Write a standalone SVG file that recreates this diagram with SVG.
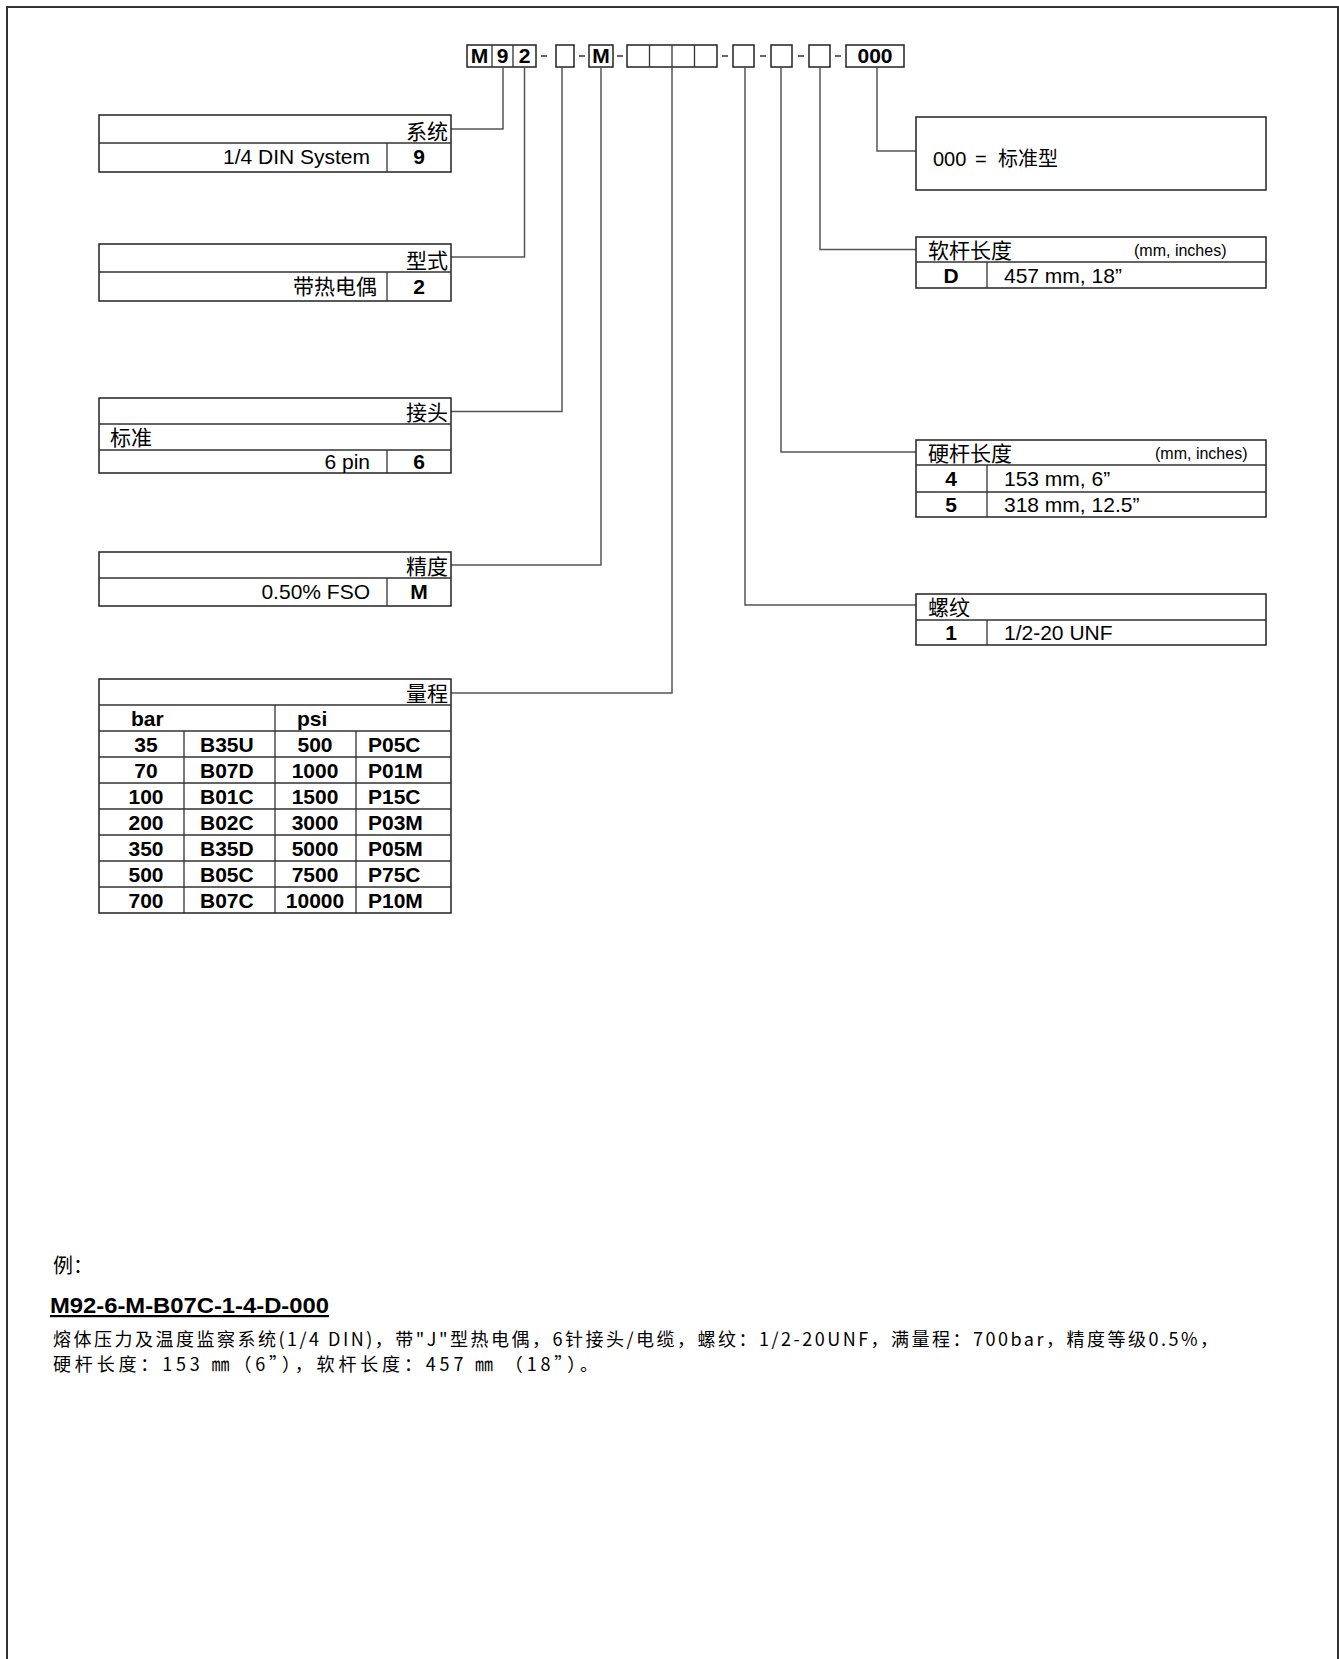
<svg xmlns="http://www.w3.org/2000/svg" width="1339" height="1659" viewBox="0 0 1339 1659">
<style>
.t{font-family:"Liberation Sans","Noto Sans CJK SC",sans-serif;font-size:21px;fill:#000}
.b{font-weight:bold}
.s{font-size:16px}
.m{text-anchor:middle}
.e{text-anchor:end}
.box{fill:none;stroke:#222;stroke-width:1.5}
.ln{fill:none;stroke:#333;stroke-width:1.3}
.cn{fill:none;stroke:#555;stroke-width:1.5}
.d{font-family:"Noto Sans CJK SC",sans-serif;font-size:18px;fill:#000}
</style>
<rect width="1339" height="1659" fill="#fff"/>
<path d="M7,1659 V7 H1338 V1659" fill="none" stroke="#333" stroke-width="2"/>

<g id="code">
<rect class="box" x="467" y="45" width="69" height="22"/>
<path class="ln" d="M492,45V67M513,45V67"/>
<text class="t b m" x="479.5" y="63">M</text>
<text class="t b m" x="502.5" y="63">9</text>
<text class="t b m" x="524.5" y="63">2</text>
<rect class="box" x="556" y="45" width="18" height="22"/>
<rect class="box" x="589" y="45" width="24" height="22"/>
<text class="t b m" x="601" y="63">M</text>
<rect class="box" x="627" y="45" width="90" height="22"/>
<path class="ln" d="M649.5,45V67M672,45V67M694.5,45V67"/>
<rect class="box" x="733" y="45" width="21" height="22"/>
<rect class="box" x="771" y="45" width="21" height="22"/>
<rect class="box" x="809" y="45" width="21" height="22"/>
<rect class="box" x="846" y="45" width="58" height="22"/>
<text class="t b m" x="875" y="63">000</text>
<path class="ln" d="M541,56h6M579,56h6M617,56h6M722,56h6M760,56h6M798,56h6M835,56h6"/>
</g>

<g id="connectors">
<path class="cn" d="M503,67V129H451"/>
<path class="cn" d="M524.5,67V257H451"/>
<path class="cn" d="M562,67V411.5H451"/>
<path class="cn" d="M601,67V565H451"/>
<path class="cn" d="M672,67V693H451"/>
<path class="cn" d="M745,67V605H916"/>
<path class="cn" d="M781,67V452H916"/>
<path class="cn" d="M820,67V249.5H916"/>
<path class="cn" d="M877,67V151H916"/>
</g>

<g id="system">
<rect class="box" x="99" y="115" width="352" height="57"/>
<path class="ln" d="M99,143H451M387,143V172"/>
<text class="t e" x="448" y="139">系统</text>
<text class="t e" x="370" y="164">1/4 DIN System</text>
<text class="t b m" x="419" y="164">9</text>
</g>

<g id="type">
<rect class="box" x="99" y="244" width="352" height="57"/>
<path class="ln" d="M99,272H451M387,272V301"/>
<text class="t e" x="448" y="268">型式</text>
<text class="t e" x="377" y="294">带热电偶</text>
<text class="t b m" x="419" y="294">2</text>
</g>

<g id="connector">
<rect class="box" x="99" y="398" width="352" height="75"/>
<path class="ln" d="M99,424H451M99,450H451M387,450V473"/>
<text class="t e" x="448" y="420">接头</text>
<text class="t" x="110" y="445">标准</text>
<text class="t e" x="370" y="469">6 pin</text>
<text class="t b m" x="419" y="469">6</text>
</g>

<g id="accuracy">
<rect class="box" x="99" y="552" width="352" height="54"/>
<path class="ln" d="M99,578H451M387,578V606"/>
<text class="t e" x="448" y="574">精度</text>
<text class="t e" x="370" y="599">0.50% FSO</text>
<text class="t b m" x="419" y="599">M</text>
</g>

<g id="range">
<rect class="box" x="99" y="679" width="352" height="234"/>
<path class="ln" d="M99,705H451M99,731H451M99,757H451M99,783H451M99,809H451M99,835H451M99,861H451M99,887H451M275,705V913M184,731V913M356,731V913"/>
<text class="t e" x="448" y="701">量程</text>
<text class="t b" x="131" y="726">bar</text>
<text class="t b" x="297" y="726">psi</text>
<g class="t b">
<text class="m" x="146" y="752">35</text><text x="200" y="752">B35U</text><text class="m" x="315" y="752">500</text><text x="368" y="752">P05C</text>
<text class="m" x="146" y="778">70</text><text x="200" y="778">B07D</text><text class="m" x="315" y="778">1000</text><text x="368" y="778">P01M</text>
<text class="m" x="146" y="804">100</text><text x="200" y="804">B01C</text><text class="m" x="315" y="804">1500</text><text x="368" y="804">P15C</text>
<text class="m" x="146" y="830">200</text><text x="200" y="830">B02C</text><text class="m" x="315" y="830">3000</text><text x="368" y="830">P03M</text>
<text class="m" x="146" y="856">350</text><text x="200" y="856">B35D</text><text class="m" x="315" y="856">5000</text><text x="368" y="856">P05M</text>
<text class="m" x="146" y="882">500</text><text x="200" y="882">B05C</text><text class="m" x="315" y="882">7500</text><text x="368" y="882">P75C</text>
<text class="m" x="146" y="908">700</text><text x="200" y="908">B07C</text><text class="m" x="315" y="908">10000</text><text x="368" y="908">P10M</text>
</g>
</g>

<g id="standard">
<rect class="box" x="916" y="117" width="350" height="73"/>
<text class="t" y="166" style="font-size:20px"><tspan x="933">000</tspan><tspan x="975">=</tspan><tspan x="998">标准型</tspan></text>
</g>

<g id="soft-length">
<rect class="box" x="916" y="237" width="350" height="51"/>
<path class="ln" d="M916,262H1266M987,262V288"/>
<text class="t" x="928" y="258">软杆长度</text>
<text class="t s" x="1134" y="256">(mm, inches)</text>
<text class="t b m" x="951" y="283">D</text>
<text class="t" x="1004" y="283">457 mm, 18”</text>
</g>

<g id="hard-length">
<rect class="box" x="916" y="440" width="350" height="77"/>
<path class="ln" d="M916,465H1266M916,492H1266M987,465V517"/>
<text class="t" x="928" y="461">硬杆长度</text>
<text class="t s" x="1155" y="459">(mm, inches)</text>
<text class="t b m" x="951" y="486">4</text>
<text class="t" x="1004" y="486">153 mm, 6”</text>
<text class="t b m" x="951" y="512">5</text>
<text class="t" x="1004" y="512">318 mm, 12.5”</text>
</g>

<g id="thread">
<rect class="box" x="916" y="594" width="350" height="51"/>
<path class="ln" d="M916,620H1266M987,620V645"/>
<text class="t" x="928" y="615">螺纹</text>
<text class="t b m" x="951" y="640">1</text>
<text class="t" x="1004" y="640">1/2-20 UNF</text>
</g>

<g id="example">
<text class="d" x="53" y="1273" style="font-size:20px">例：</text>
<text class="t b" x="50" y="1313" style="font-size:22px;text-decoration:underline" textLength="279" lengthAdjust="spacingAndGlyphs">M92-6-M-B07C-1-4-D-000</text>
<text class="d" x="53" y="1346" textLength="1165">熔体压力及温度监察系统(1/4 DIN)，带"J"型热电偶，6针接头/电缆，螺纹：1/2-20UNF，满量程：700bar，精度等级0.5%，</text>
<text class="d" x="53" y="1371" textLength="545">硬杆长度：153 ㎜（6”），软杆长度：457 ㎜ （18”）。</text>
</g>
</svg>
